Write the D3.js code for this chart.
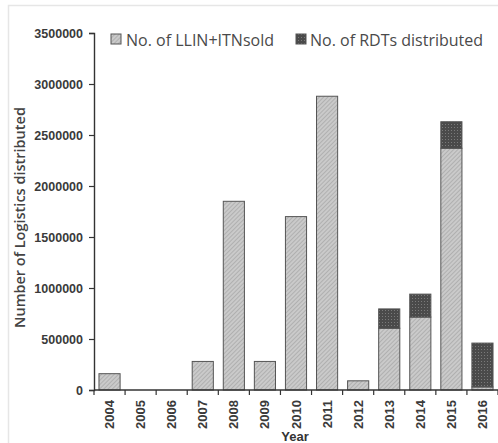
<!DOCTYPE html>
<html>
<head>
<meta charset="utf-8">
<script src="https://cdn.jsdelivr.net/npm/d3@7"></script>
<style>
  html, body { margin: 0; padding: 0; background: #fff; }
  svg { display: block; }
</style>
</head>
<body>
<svg id="chart" width="498" height="443"></svg>
<script>
// Yearly logistics distributed
const years = ["2004","2005","2006","2007","2008","2009","2010","2011","2012","2013","2014","2015","2016"];
const llinSold = [160000, 0, 0, 280000, 1850000, 280000, 1700000, 2880000, 90000, 605000, 715000, 2370000, 30000];
const rdtDistributed = [0, 0, 0, 0, 0, 0, 0, 0, 0, 190000, 225000, 260000, 430000];
const yTicks = [0, 500000, 1000000, 1500000, 2000000, 2500000, 3000000, 3500000];
const seriesNames = ["No. of LLIN+ITNsold", "No. of RDTs distributed"];

(function draw() {
  const svg = d3.select("#chart");
  const plotLeft = 94, plotRight = 498, plotTop = 33, plotBottom = 390;

  // outer light frame
  svg.append("rect").attr("x", 8.5).attr("y", 5.5).attr("width", 500).attr("height", 450)
    .attr("fill", "none").attr("stroke", "#e6e6e6").attr("stroke-width", 1.5);

  const defs = svg.append("defs");
  const hatch = defs.append("pattern").attr("id", "hatch").attr("patternUnits", "userSpaceOnUse")
    .attr("width", 3).attr("height", 3).attr("patternTransform", "rotate(45)");
  hatch.append("rect").attr("width", 3).attr("height", 3).attr("fill", "#cacaca");
  hatch.append("line").attr("x1", 0).attr("y1", 0).attr("x2", 0).attr("y2", 3)
    .attr("stroke", "#969696").attr("stroke-width", 1);

  const dots = defs.append("pattern").attr("id", "dots").attr("patternUnits", "userSpaceOnUse")
    .attr("width", 3).attr("height", 3);
  dots.append("rect").attr("width", 3).attr("height", 3).attr("fill", "#4a4a4a");
  dots.append("rect").attr("x", 1).attr("y", 1).attr("width", 1).attr("height", 1).attr("fill", "#7a7a7a");

  const x = d3.scaleBand().domain(years).range([plotLeft, plotRight]).paddingInner(0.32).paddingOuter(0.16);
  const y = d3.scaleLinear().domain([0, 3500000]).range([plotBottom, plotTop]);

  const rows = years.map((yr, i) => ({ year: yr, llin: llinSold[i], rdt: rdtDistributed[i] }));
  const stack = d3.stack().keys(["llin", "rdt"])(rows);
  const fills = ["url(#hatch)", "url(#dots)"];

  stack.forEach((layer, k) => {
    svg.append("g").selectAll("rect")
      .data(layer.filter(d => d[1] - d[0] > 0))
      .join("rect")
      .attr("x", d => x(d.data.year))
      .attr("width", x.bandwidth())
      .attr("y", d => y(d[1]))
      .attr("height", d => y(d[0]) - y(d[1]))
      .attr("fill", fills[k])
      .attr("stroke", "#555")
      .attr("stroke-width", 1);
  });

  // Y axis
  const yAxis = svg.append("g").attr("transform", `translate(${plotLeft},0)`)
    .call(d3.axisLeft(y).tickValues(yTicks).tickFormat(d3.format("d")).tickSize(5).tickPadding(6));
  yAxis.select(".domain").attr("stroke", "#333").attr("stroke-width", 1.4);
  yAxis.selectAll(".tick line").attr("stroke", "#333").attr("stroke-width", 1.2);
  yAxis.selectAll("text").attr("font-family", "Liberation Sans, Arial, sans-serif")
    .attr("font-size", 12.5).attr("font-weight", "bold").attr("fill", "#3a3a3a");

  // X axis baseline with ticks at category boundaries
  const step = x.step();
  const xAxisG = svg.append("g");
  xAxisG.append("line").attr("x1", plotLeft).attr("x2", plotRight).attr("y1", plotBottom).attr("y2", plotBottom)
    .attr("stroke", "#333").attr("stroke-width", 1.4);
  const bounds = years.map(yr => x(yr) - step * x.paddingInner() / 2).concat([plotRight]);
  xAxisG.selectAll("line.tk").data(bounds).join("line").attr("class", "tk")
    .attr("x1", d => d).attr("x2", d => d).attr("y1", plotBottom).attr("y2", plotBottom + 5)
    .attr("stroke", "#333").attr("stroke-width", 1.2);
  xAxisG.selectAll("text").data(years).join("text")
    .attr("transform", d => `translate(${x(d) + x.bandwidth() / 2 + 4.5},${plotBottom + 10}) rotate(-90)`)
    .attr("text-anchor", "end")
    .attr("font-family", "Liberation Sans, Arial, sans-serif")
    .attr("font-size", 13).attr("font-weight", "bold").attr("fill", "#3a3a3a")
    .text(d => d);

  // Axis titles
  svg.append("text")
    .attr("transform", `translate(25,${(plotTop + plotBottom) / 2 + 6}) rotate(-90)`)
    .attr("text-anchor", "middle")
    .attr("font-family", "Open Sans, sans-serif").attr("font-size", 14.5).attr("font-weight", 600)
    .attr("fill", "#444").text("Number of Logistics distributed");
  svg.append("text")
    .attr("x", 295).attr("y", 441).attr("text-anchor", "middle")
    .attr("font-family", "Liberation Sans, Arial, sans-serif").attr("font-size", 13).attr("font-weight", "bold")
    .attr("fill", "#333").text("Year");

  // Legend
  const legendPos = [[111, 126], [296, 310]];
  seriesNames.forEach((name, i) => {
    svg.append("rect").attr("x", legendPos[i][0]).attr("y", 34).attr("width", 10).attr("height", 10)
      .attr("fill", fills[i]).attr("stroke", "#555").attr("stroke-width", 1);
    svg.append("text").attr("x", legendPos[i][1]).attr("y", 45.5)
      .attr("font-family", "Open Sans, sans-serif").attr("font-size", 16).attr("fill", "#4a4a4a")
      .text(name);
  });
})();
</script>
</body>
</html>
